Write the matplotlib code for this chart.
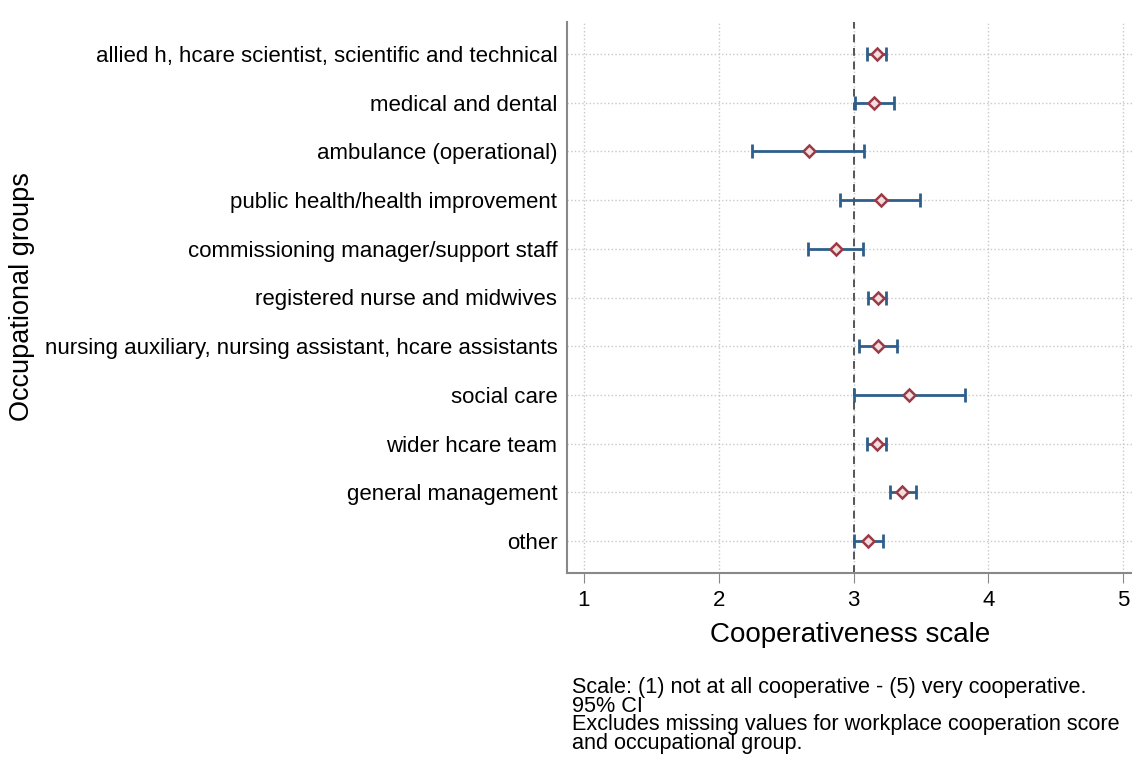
import numpy as np, matplotlib
matplotlib.use("Agg"); import matplotlib.pyplot as plt

groups = ["allied h, hcare scientist, scientific and technical", "medical and dental",
          "ambulance (operational)", "public health/health improvement",
          "commissioning manager/support staff", "registered nurse and midwives",
          "nursing auxiliary, nursing assistant, hcare assistants", "social care",
          "wider hcare team", "general management", "other"]
mean = [3.17, 3.15, 2.67, 3.20, 2.87, 3.18, 3.18, 3.41, 3.17, 3.36, 3.11]
lo   = [3.10, 3.01, 2.25, 2.90, 2.66, 3.11, 3.04, 3.00, 3.10, 3.27, 3.00]
hi   = [3.24, 3.30, 3.08, 3.49, 3.07, 3.24, 3.32, 3.83, 3.24, 3.46, 3.22]
xticks = [1, 2, 3, 4, 5]
note = ("Scale: (1) not at all cooperative - (5) very cooperative.\n95% CI\n"
        "Excludes missing values for workplace cooperation score\nand occupational group.")

plt.rcParams["font.family"] = ["Liberation Sans", "DejaVu Sans"]
W, H = 1132, 760
fig = plt.figure(figsize=(W/100, H/100), dpi=100)
ax = fig.add_axes([567/W, 1-573/H, (W-567+2)/W, (573-22)/H])

y = np.arange(len(groups))
m = np.array(mean); err = [m-np.array(lo), np.array(hi)-m]
ax.errorbar(m, y, xerr=err, fmt="none", ecolor="#2e5f8c", elinewidth=2, capsize=5, capthick=2, zorder=3)
ax.plot(m, y, "D", ms=6.5, mfc="#f3dede", mec="#9b3a48", mew=1.8, zorder=4)
ax.axvline(3, color="#555555", ls=(0, (4, 3)), lw=1.4, zorder=2)

ax.set_xlim(0.874, 5.08)
ax.set_ylim(len(groups)-0.34, -0.66)
ax.set_yticks(y); ax.set_yticklabels(groups, fontsize=16)
ax.set_xticks(xticks); ax.set_xticklabels([str(v) for v in xticks], fontsize=16)
ax.grid(True, ls=":", color="#c8c8c8", lw=1)
ax.tick_params(axis="y", length=0, pad=7)
ax.tick_params(axis="x", length=7, color="#888888", pad=5)
for s in ["top", "right"]: ax.spines[s].set_visible(False)
for s in ["left", "bottom"]: ax.spines[s].set_color("#888888"); ax.spines[s].set_linewidth(1.5)
ax.set_xlabel("Cooperativeness scale", fontsize=20, labelpad=8)
fig.text(22/W, 1-297/H, "Occupational groups", fontsize=19.5, rotation=90, ha="center", va="center")
fig.text(572/W, 1-677/H, note, fontsize=15.6, ha="left", va="top", linespacing=0.85)
fig.savefig("out.png", dpi=100)
